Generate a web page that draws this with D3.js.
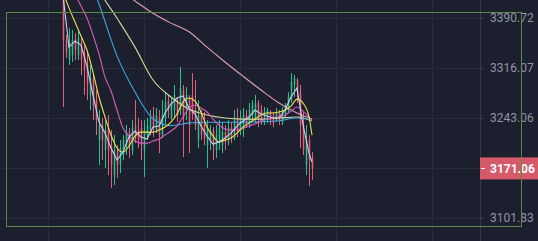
<!DOCTYPE html>
<html>
<head>
<meta charset="utf-8">
<script src="https://cdn.jsdelivr.net/npm/d3@7"></script>
<style>
html, body { margin: 0; padding: 0; background: #1c1f2e; }
svg { display: block; }
</style>
</head>
<body>
<svg width="538" height="241"></svg>
<script>
// candles, oldest first
var open = [3418, 3358, 3328, 3335, 3357.5, 3335, 3354.5, 3335, 3320, 3276.4,
  3298.4, 3269, 3211.4, 3233, 3197, 3228.6, 3204, 3161.7, 3197, 3176,
  3190, 3204, 3222.8, 3197, 3233, 3225.7, 3228.6, 3197, 3218.5, 3225.7,
  3247.3, 3225.7, 3243, 3218.5, 3243, 3269, 3243, 3254.6, 3269, 3254.6,
  3283.7, 3254.6, 3272, 3276.4, 3254.6, 3211.4, 3247.3, 3233, 3204, 3211.4,
  3225.7, 3197, 3211.4, 3204, 3222.8, 3208.5, 3228.6, 3214.3, 3243, 3225.7,
  3225.7, 3247.3, 3233, 3247.3, 3243, 3264.7, 3254.6, 3237.2, 3240, 3251.7,
  3247.3, 3240, 3250.2, 3237.2, 3247.3, 3257.5, 3269, 3291, 3298.4, 3280.8,
  3233, 3176, 3211.4, 3186];
var high = [3433, 3365, 3375.6, 3372.6, 3368, 3372.6, 3360.5, 3350, 3339.7, 3320.4,
  3305.7, 3283.7, 3254.6, 3243, 3240, 3247.3, 3225.7, 3218.5, 3204, 3211.4,
  3218.5, 3233, 3228.6, 3240, 3269, 3243, 3240, 3240, 3243, 3254.6,
  3259, 3257.5, 3254.6, 3269, 3280.5, 3276.4, 3273.5, 3291, 3272, 3317.5,
  3291, 3288, 3276.4, 3308.6, 3298.4, 3269, 3254.6, 3251.7, 3240, 3233,
  3230, 3233, 3240, 3237.2, 3233, 3240, 3237.2, 3254.6, 3257.5, 3254.6,
  3257.5, 3254.6, 3264.7, 3269, 3276.4, 3269, 3261.8, 3259, 3257.5, 3254.6,
  3251.7, 3257.5, 3254.6, 3259, 3264.7, 3280.5, 3308.6, 3305.7, 3301.3, 3291,
  3251.7, 3233, 3218.5, 3194.2];
var low = [3259, 3331, 3320.4, 3325, 3328, 3328, 3305.7, 3276.4, 3269, 3254.6,
  3240, 3218.5, 3176, 3183, 3171.6, 3161.7, 3143.5, 3147.7, 3157.5, 3164.5,
  3183, 3190, 3186, 3190, 3207, 3200, 3183, 3158.9, 3211.4, 3218.5,
  3215.6, 3221.4, 3192.8, 3214.3, 3233, 3243, 3240, 3243, 3237, 3247.3,
  3187.2, 3240, 3192.8, 3240, 3225.7, 3200, 3211.4, 3204, 3171.6, 3197,
  3183, 3186, 3197, 3192.8, 3197, 3204, 3207, 3211.4, 3215.6, 3218.5,
  3215.6, 3228.6, 3228.6, 3240, 3237.2, 3230, 3233, 3233, 3235.7, 3233,
  3230, 3237.2, 3233, 3233, 3243, 3251.7, 3264.7, 3273.5, 3264.7, 3200,
  3190, 3161.7, 3146.3, 3154.7];
var close = [3357.5, 3340, 3354.5, 3357.5, 3342.7, 3360.5, 3328, 3313, 3291, 3301.3,
  3261.8, 3240, 3233, 3211.4, 3225.7, 3197, 3176, 3197, 3176, 3200,
  3211.4, 3222.8, 3204, 3228.6, 3214.3, 3211.4, 3204, 3225.7, 3233, 3243,
  3228.6, 3247.3, 3218.5, 3247.3, 3266.2, 3254.6, 3264.7, 3276.4, 3247.3, 3286.6,
  3243, 3276.4, 3233, 3247.3, 3233, 3247.3, 3218.5, 3214.3, 3228.6, 3225.7,
  3204, 3218.5, 3228.6, 3222.8, 3208.5, 3228.6, 3214.3, 3240, 3225.7, 3243,
  3247.3, 3233, 3254.6, 3261.8, 3264.7, 3243, 3237.2, 3251.7, 3254.6, 3240,
  3235.7, 3250.2, 3240, 3251.7, 3261.8, 3273.5, 3295.5, 3301.3, 3280.8, 3233,
  3197, 3211.4, 3183, 3171.06];

// moving averages, read at every 2nd candle
var shortIdx = [0, 2, 4, 6, 8, 10, 12, 14, 16, 18, 20, 22, 24, 26, 28, 30, 32, 34, 36, 38,
  40, 42, 44, 46, 48, 50, 52, 54, 56, 58, 60, 62, 64, 66, 68, 70, 72, 74, 76, 78, 80, 82, 83];
var ma5 = [3425.6, 3347, 3356, 3350, 3319, 3276.4, 3237.2, 3221.4, 3200, 3183,
  3194.2, 3215.6, 3224.3, 3215.6, 3212.8, 3230, 3231.5, 3250.2, 3263.3, 3272,
  3275, 3257.5, 3248.8, 3231.5, 3217.1, 3205.7, 3208.5, 3214.3, 3221.4, 3231.5,
  3238.7, 3244.5, 3254.6, 3248.8, 3245.9, 3243, 3243, 3254.6, 3273.5, 3286.6,
  3233, 3192.8, 3180.2];
var ma10 = [3430, 3406, 3384.6, 3363.6, 3342.7, 3310, 3273.5, 3244.5, 3218.5, 3200,
  3194.2, 3202.8, 3217.1, 3222.8, 3222.8, 3222.8, 3225.7, 3230, 3237.2, 3248.8,
  3266.2, 3272, 3267.6, 3251.7, 3230, 3217.1, 3208.5, 3211.4, 3214.3, 3221.4,
  3230, 3235.7, 3241.5, 3247.3, 3250.2, 3250.2, 3251.7, 3254.6, 3260.3, 3270.5,
  3264.7, 3244.5, 3218.5];
var ma20 = [3464, 3445, 3427, 3409, 3390.6, 3365, 3336.8, 3302.8, 3282.2, 3254.6,
  3228.6, 3217.1, 3210, 3207, 3207, 3210, 3212.8, 3218.5, 3224.3, 3231.5,
  3244.5, 3257.5, 3261.8, 3257.5, 3251.7, 3241.5, 3233, 3227.1, 3225.7, 3225.7,
  3228.6, 3231.5, 3234.3, 3238.7, 3241.5, 3243, 3244.5, 3247.3, 3253.1, 3259,
  3253.1, 3244.5, 3240.1];

// longer averages, read at every 6th candle
var longIdx = [0, 6, 12, 18, 24, 30, 36, 42, 48, 54, 60, 66, 72, 78, 83];
var ma30 = [3550, 3482, 3412, 3334, 3280.8, 3242, 3232, 3236, 3237, 3237,
  3237, 3237.5, 3239, 3243, 3239.5];
var ma60 = [3541, 3495, 3433, 3390.6, 3347, 3298.4, 3273.5, 3256, 3247.3, 3243,
  3241.5, 3241.5, 3243, 3244.5, 3238.7];
var ma120 = [3497, 3476, 3456, 3436, 3416.5, 3398, 3383, 3370, 3347, 3325,
  3304, 3283.7, 3264.7, 3250.2, 3241.5];

var priceTicks = [3390.72, 3316.07, 3243.06, 3171.66, 3101.83];
var timeGrid = [-5, 27, 59, 91, 123];
var lastPrice = 3171.06;

var svg = d3.select('svg');
var w = 538, h = 241;
var axisX = 480;

var x = d3.scaleLinear().domain([0, 83]).range([63, 312]);
var y = d3.scaleLog().domain([3101.83, 3390.72]).range([218, 18]);

function px(v) { return Math.round(v) + 0.5 }

// grid
svg.append('g').selectAll('line').data(priceTicks).enter().append('line')
  .attr('x1', 0).attr('x2', axisX)
  .attr('y1', function(d) { return px(y(d)) }).attr('y2', function(d) { return px(y(d)) })
  .attr('stroke', '#282c3d')
svg.append('g').selectAll('line').data(timeGrid).enter().append('line')
  .attr('x1', function(d) { return px(x(d)) }).attr('x2', function(d) { return px(x(d)) })
  .attr('y1', 0).attr('y2', h)
  .attr('stroke', '#282c3d')

// candles
var idx = d3.range(open.length);
var up = '#2dbf8c', down = '#e2607a';
function col(i) { return close[i] >= open[i] ? up : down }

var cg = svg.append('g');
cg.selectAll('line').data(idx).enter().append('line')
  .attr('x1', function(i) { return px(x(i)) }).attr('x2', function(i) { return px(x(i)) })
  .attr('y1', function(i) { return y(high[i]) }).attr('y2', function(i) { return y(low[i]) })
  .attr('stroke', col).attr('stroke-width', 1)
cg.selectAll('rect').data(idx).enter().append('rect')
  .attr('x', function(i) { return Math.round(x(i)) - 0.25 })
  .attr('width', 1.5)
  .attr('y', function(i) { return Math.min(y(open[i]), y(close[i])) })
  .attr('height', function(i) { return Math.max(1, Math.abs(y(open[i]) - y(close[i]))) })
  .attr('fill', col)

// moving average lines
function addMA(ix, vals, color, curve) {
  var line = d3.line()
    .x(function(d, k) { return x(ix[k]) })
    .y(function(d) { return y(d) })
    .curve(curve);
  svg.append('path').datum(vals)
    .attr('d', line)
    .attr('fill', 'none')
    .attr('stroke', color)
    .attr('stroke-width', 1.1)
}
addMA(longIdx, ma120, '#e4a0b0', d3.curveMonotoneX);
addMA(longIdx, ma60, '#d6da9c', d3.curveMonotoneX);
addMA(longIdx, ma30, '#3fa6df', d3.curveMonotoneX);
addMA(shortIdx, ma20, '#d85bbd', d3.curveMonotoneX);
addMA(shortIdx, ma10, '#f2e14c', d3.curveMonotoneX);
addMA(shortIdx, ma5, '#cfd0ee', d3.curveLinear);

// price axis
svg.append('line')
  .attr('x1', axisX + 0.5).attr('x2', axisX + 0.5)
  .attr('y1', 0).attr('y2', h)
  .attr('stroke', '#343849')

var axis = svg.append('g')
  .attr('transform', 'translate(' + axisX + ',0)')
  .call(d3.axisRight(y).tickValues(priceTicks).tickFormat(d3.format('.2f')).tickSize(4).tickPadding(6))
axis.select('.domain').remove()
axis.selectAll('line').attr('stroke', '#3a3e50')
axis.selectAll('text')
  .attr('fill', '#9095a7')
  .style('font-family', 'Roboto, sans-serif')
  .style('font-size', '12px')

// last price badge
var ly = y(lastPrice);
svg.append('rect')
  .attr('x', axisX).attr('y', ly - 11)
  .attr('width', w - axisX).attr('height', 22)
  .attr('fill', '#d6596a')
svg.append('line')
  .attr('x1', axisX + 1).attr('x2', axisX + 5)
  .attr('y1', px(ly)).attr('y2', px(ly))
  .attr('stroke', '#ffffff')
svg.append('text')
  .attr('x', axisX + 10).attr('y', ly)
  .attr('dy', '0.35em')
  .attr('fill', '#ffffff')
  .style('font-family', 'Roboto, sans-serif')
  .style('font-size', '12px')
  .style('font-weight', 'bold')
  .text(d3.format('.2f')(lastPrice))

// selection box
svg.append('rect')
  .attr('x', 6.5).attr('y', 12.5)
  .attr('width', 515).attr('height', 214)
  .attr('fill', 'none')
  .attr('stroke', '#568b48')
  .attr('stroke-width', 1)
</script>
</body>
</html>
